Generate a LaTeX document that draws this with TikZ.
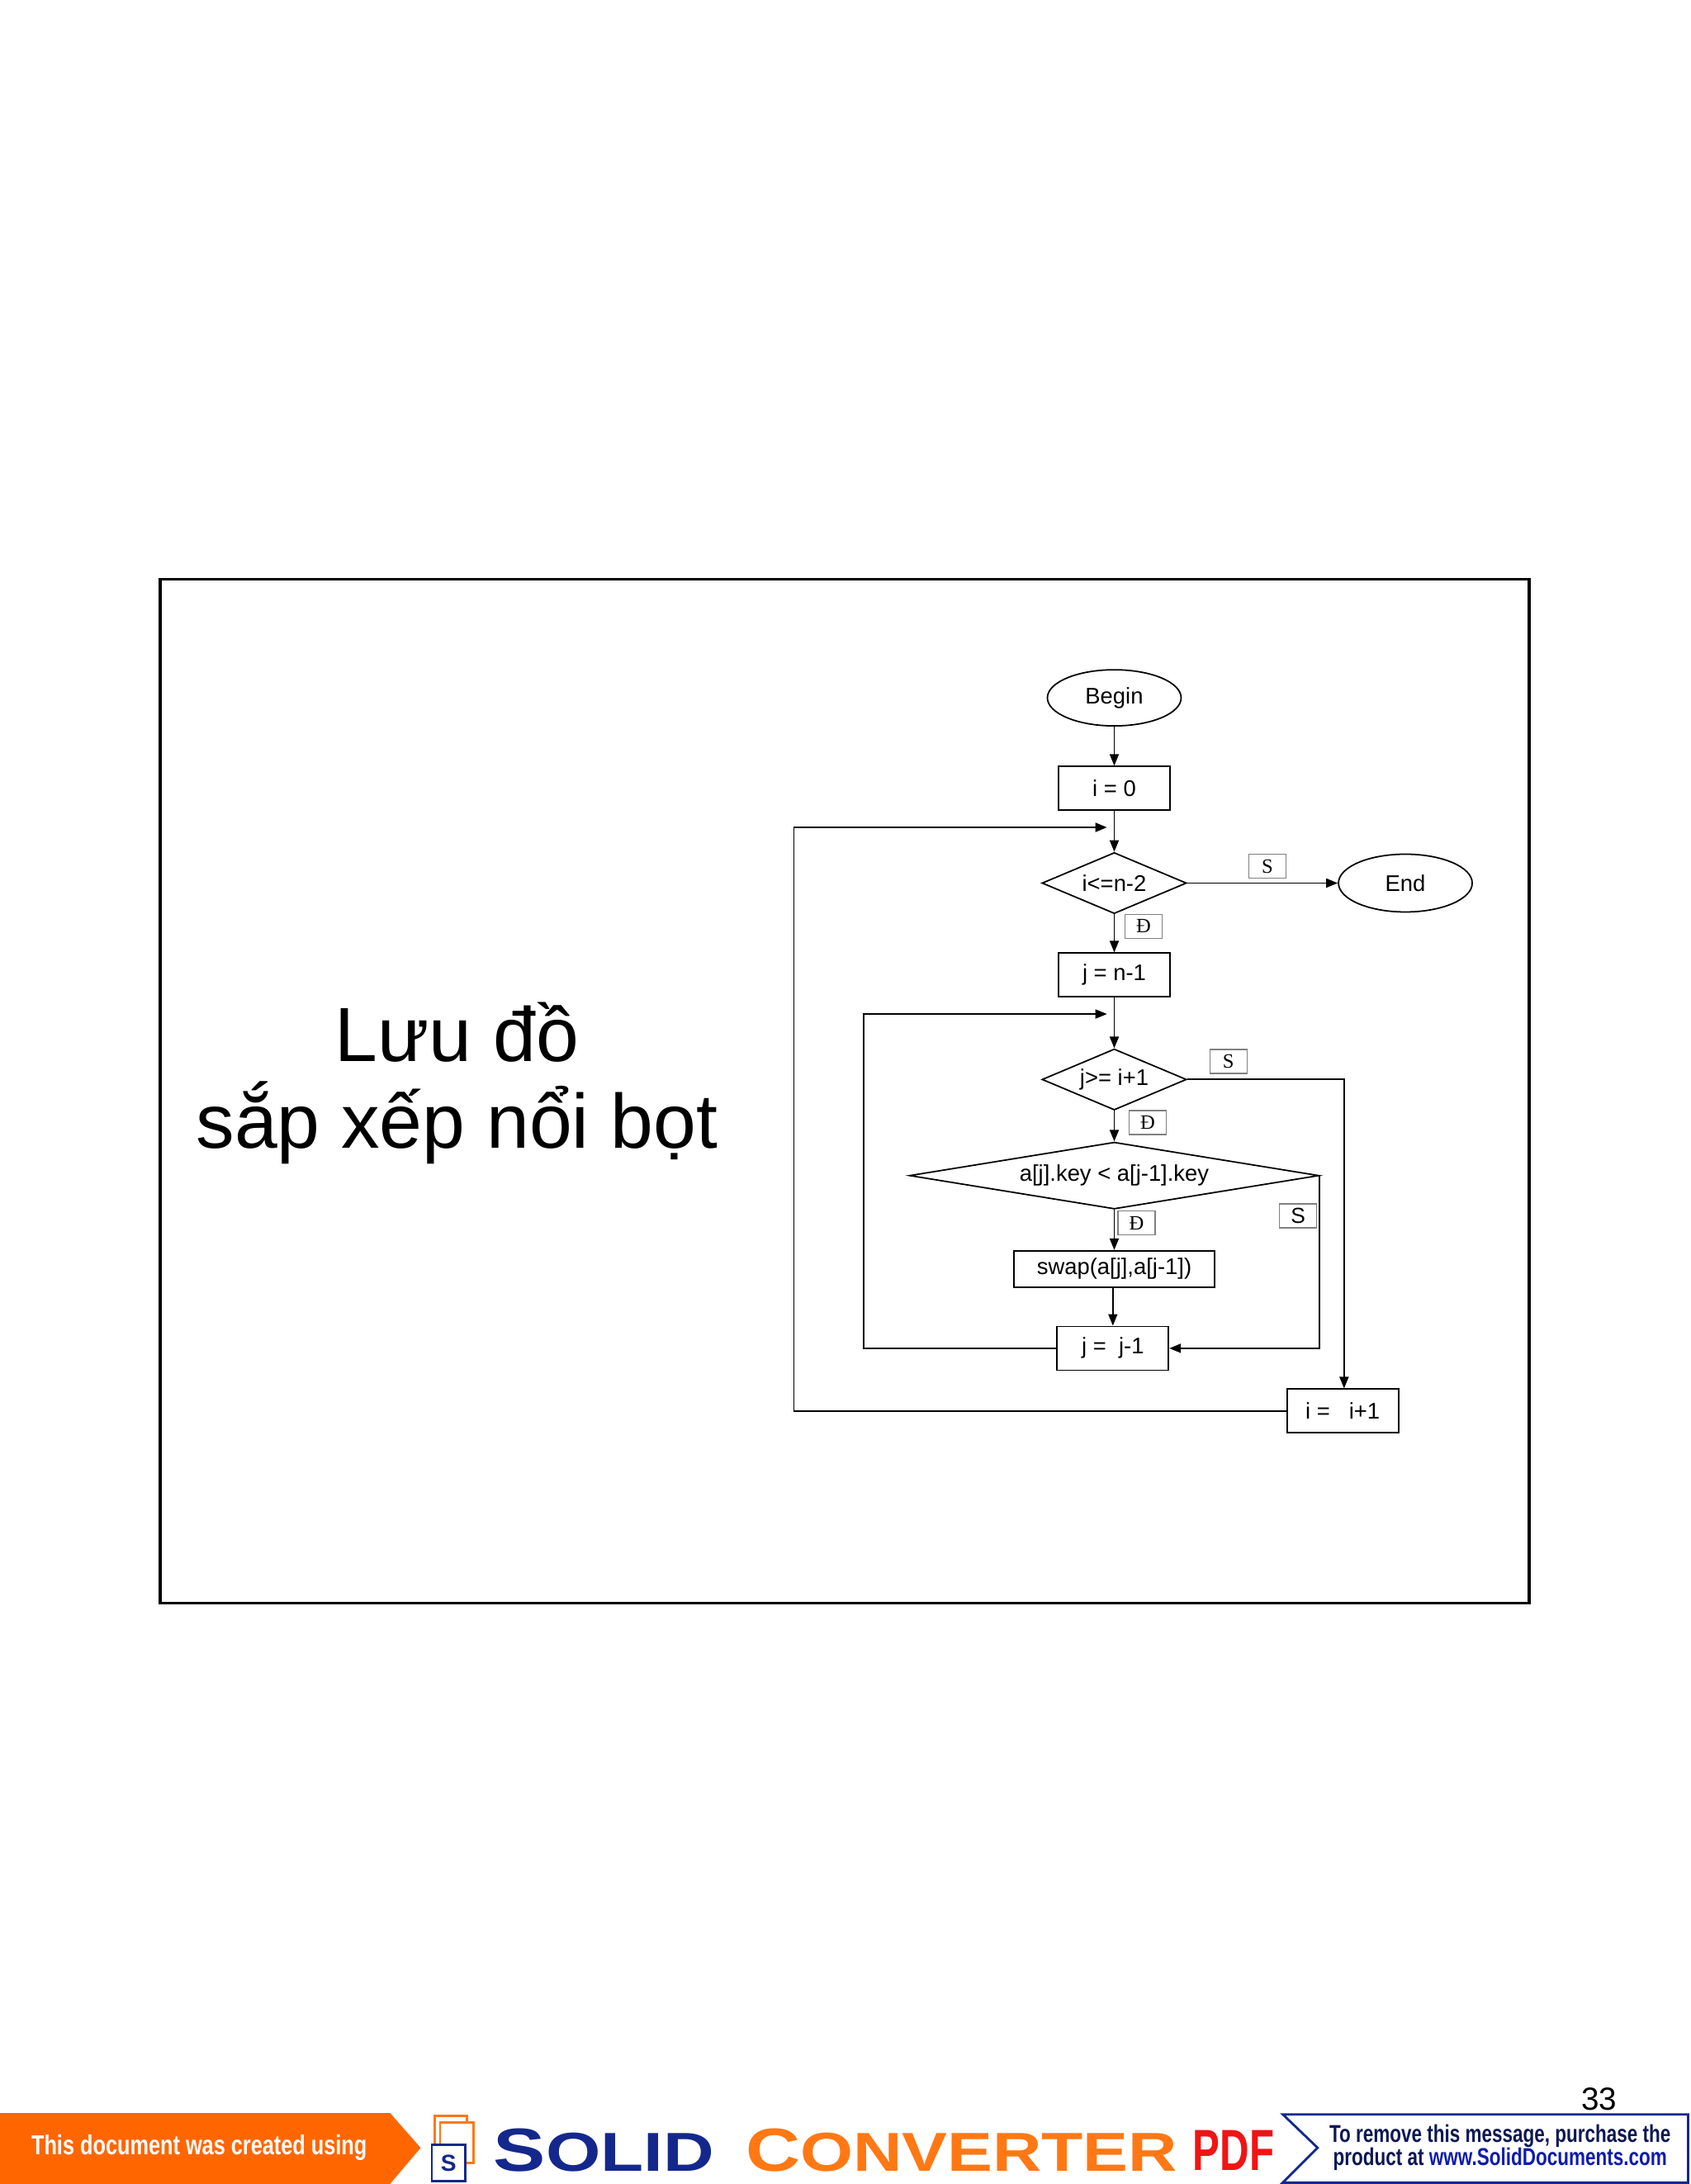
\documentclass[tikz,border=0pt]{standalone}
\usepackage{fontspec}
\setmainfont{Liberation Sans}
\newfontfamily\serifx{Liberation Serif}
\usetikzlibrary{arrows.meta,shapes.geometric}
\definecolor{bannerorange}{RGB}{255,102,0}
\definecolor{solidblue}{RGB}{20,40,140}
\definecolor{pdfred}{RGB}{240,20,20}
\definecolor{convorange}{RGB}{255,120,20}
\tikzset{
  flow/.style={draw,line width=0.5pt,font=\fontsize{7.8pt}{9pt}\selectfont,inner sep=0pt},
  procbox/.style={flow,rectangle,minimum width=13.5mm,minimum height=5.3mm},
  term/.style={flow,ellipse,minimum width=16.2mm,minimum height=6.8mm},
  dec/.style={flow,diamond,minimum width=17.5mm,minimum height=7.4mm,aspect=2.4},
  lab/.style={draw=gray,line width=0.4pt,rectangle,minimum width=4.5mm,minimum height=2.9mm,inner sep=0pt,font=\serifx\fontsize{7pt}{8pt}\selectfont},
  conn/.style={line width=0.5pt,-{Triangle[length=1.4mm,width=1.1mm]}},
  plain/.style={line width=0.5pt}
}
\begin{document}
\begin{tikzpicture}[x=0.1687mm,y=-0.1687mm]
\useasboundingbox (0,0) rectangle (1214,1568);
\fill[white] (0,0) rectangle (1214,1568);
% frame
\draw[line width=1pt] (115,416) rectangle (1098,1151);
% title
\node (t1) at (328,741) {\fontsize{26.5pt}{30pt}\selectfont Lưu đồ};
\node (t2) at (328,806) {\fontsize{26.5pt}{30pt}\selectfont sắp xếp nổi bọt};
% flowchart
\node[term] (begin) at (800,501) {Begin};
\node[procbox] (i0) at (800,566) {i = 0};
\node[dec] (d1) at (800,634) {i<=n-2};
\node[term,minimum width=16.2mm,minimum height=7mm] (end) at (1009,634) {End};
\node[procbox] (jn) at (800,700) {j = n-1};
\node[dec] (d2) at (800,775) {j>= i+1};
\node[dec,minimum width=49.6mm,minimum height=8.1mm,aspect=6] (d3) at (800,844) {a[j].key < a[j-1].key};
\node[procbox,minimum width=24.3mm,minimum height=4.4mm] (swap) at (800,911) {swap(a[j],a[j-1])};
\node[procbox] (jj) at (799,968) {j =\ \ j-1};
\node[procbox] (ii) at (964,1013) {i =\ \ \ i+1};
% labels
\node[lab] (s1) at (910,622) {S};
\node[lab] (dd1) at (821,665) {Đ};
\node[lab] (s2) at (882,762) {S};
\node[lab] (dd2) at (824,806) {Đ};
\node[lab,font=\fontsize{7.5pt}{8pt}\selectfont] (s3) at (932,873) {S};
\node[lab] (dd3) at (816,878) {Đ};
% coordinates
\coordinate (c1) at (800,594);
\coordinate (c2) at (800,728);
\coordinate (rt2) at (965,775);
\coordinate (lf1) at (570,594);
\coordinate (lf2) at (620,728);
% connectors
\draw[conn] (begin) -- (i0);
\draw[conn] (i0) -- (d1);
\draw[conn] (d1) -- (end);
\draw[conn] (d1) -- (jn);
\draw[conn] (jn) -- (d2);
\draw[conn] (d2) -- (d3);
\draw[conn] (d3) -- (swap);
\draw[conn] (swap.south -| jj) -- (jj);
\draw[conn] (d2.east) -- (rt2) -- (rt2 |- ii.north);
\draw[conn] (d3.east) -- (d3.east |- jj.east) -- (jj.east);
\draw[conn] (jj.west) -- (lf2 |- jj.west) -- (lf2) -- ([xshift=-2.5]c2);
\draw[conn] (ii.west) -- (lf1 |- ii.west) -- (lf1) -- ([xshift=-2.5]c1);
% page number
\node (pg) at (1148,1507) {\fontsize{11pt}{12pt}\selectfont 33};
% banner
\fill[bannerorange] (0,1517) -- (280,1517) -- (302,1542) -- (280,1568) -- (0,1568) -- cycle;
\node[text=white,font=\bfseries\fontsize{9pt}{10pt}\selectfont] (bt) at (143,1542) {\scalebox{0.8}[1.05]{This document was created using}};
\draw[convorange,line width=0.8pt,fill=white] (312,1519) rectangle (335,1548);
\draw[convorange,line width=0.8pt,fill=white] (316,1524) rectangle (340,1553);
\draw[solidblue,line width=0.8pt,fill=white] (310,1540) rectangle (334,1566);
\node[text=solidblue,font=\bfseries\fontsize{8pt}{8pt}\selectfont] (sl) at (322,1553) {S};
\node[anchor=west,text=solidblue,font=\bfseries,inner sep=0pt] (solid) at (354,1544) {\scalebox{2.7}[2.1]{S\fontsize{9pt}{9pt}\selectfont OLID}};
\node[anchor=west,text=convorange,font=\bfseries,inner sep=0pt] (conv) at (535,1544) {\scalebox{2.6}[2.1]{C\fontsize{9pt}{9pt}\selectfont ONVERTER}};
\node[anchor=west,text=pdfred,font=\bfseries,inner sep=0pt] (pdf) at (856,1544) {\scalebox{1.4}[2.0]{PDF}};
\draw[solidblue,line width=0.8pt,fill=white] (921,1518) -- (1212,1518) -- (1212,1567) -- (921,1567) -- (946,1542) -- cycle;
\node[font=\bfseries\fontsize{8pt}{9pt}\selectfont,text=solidblue!60!black,align=center] (rm) at (1077,1542) {\scalebox{0.8}[1.05]{To remove this message, purchase the}\\[-1pt]\scalebox{0.8}[1.05]{product at \textcolor{solidblue!70!blue}{www.SolidDocuments.com}}};
\end{tikzpicture}
\end{document}
